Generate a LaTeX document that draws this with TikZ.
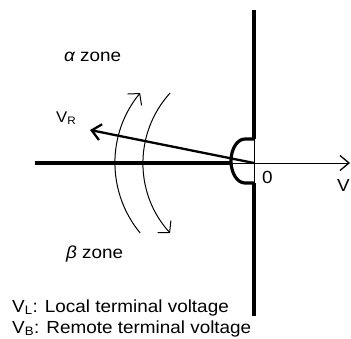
\documentclass[tikz,border=0pt]{standalone}
\usepackage{fontspec}
\setmainfont{Liberation Sans}
\usetikzlibrary{arrows.meta}
\newcommand{\wtxt}[1]{\scalebox{1.08}[1]{#1}}
\begin{document}
\begin{tikzpicture}[x=1pt,y=-1pt,
  thickax/.style={line width=3.2pt},
  thinax/.style={line width=1pt},
  lbl/.style={inner sep=0pt, font=\fontsize{17.5}{20}\selectfont},
  smalllbl/.style={inner sep=0pt, font=\fontsize{15.5}{18}\selectfont},
  axtip/.style={-{Straight Barb[length=9pt,width=15pt,line width=1.3pt]}},
  rottip/.style={-{Straight Barb[length=8pt,width=18pt]}}]
\useasboundingbox (0,0) rectangle (351,338);
\coordinate (O) at (254,163);
\coordinate (vtop) at (254,10);
\coordinate (vbot) at (254,316);
\coordinate (hleft) at (35,163);
\coordinate (hmid) at (231,163);
\coordinate (hright) at (350,163);
\coordinate (ct) at (254,139);
\coordinate (cb) at (254,183);
\coordinate (R) at (90,130);
% vertical axis
\draw[thickax] (vtop) -- (ct);
\draw[thickax] (cb) -- (vbot);
\draw[thinax] (ct) -- (cb);
% horizontal axis
\draw[thickax] (hleft) -- (hmid);
\draw[thinax, axtip] (hmid) -- (hright);
% semicircle
\draw[thickax] (ct) -- (245,139) arc[start angle=-90, end angle=-270, x radius=14, y radius=22] -- (cb);
% V_R vector
\draw[line width=2.3pt, -{Straight Barb[length=9pt,width=16pt]}] (O) -- (R);
% rotation arcs
\draw[thinax, rottip] (225,163) ++(140.5:110) arc[start angle=140.5, end angle=219.5, radius=110];
\draw[thinax, rottip] (247,163) ++(222.3:104) arc[start angle=222.3, end angle=137.7, radius=104];
% labels
\node[lbl, anchor=base west] (alpha) at (64,61) {\wtxt{\itshape α\upshape{} zone}};
\node[lbl, anchor=base west] (beta) at (66,258) {\wtxt{\itshape β\upshape{} zone}};
\node[smalllbl, anchor=base west] (vr) at (56,122) {\wtxt{V\textsubscript{R}}};
\node[lbl, anchor=base west] (zero) at (262,183) {\wtxt{0}};
\node[lbl, anchor=base west] (vx) at (337,191) {\wtxt{V}};
\node[lbl, anchor=base west] (leg1) at (12,312) {\wtxt{V\textsubscript{L}: Local terminal voltage}};
\node[lbl, anchor=base west] (leg2) at (12,333) {\wtxt{V\textsubscript{B}: Remote terminal voltage}};
\end{tikzpicture}
\end{document}
